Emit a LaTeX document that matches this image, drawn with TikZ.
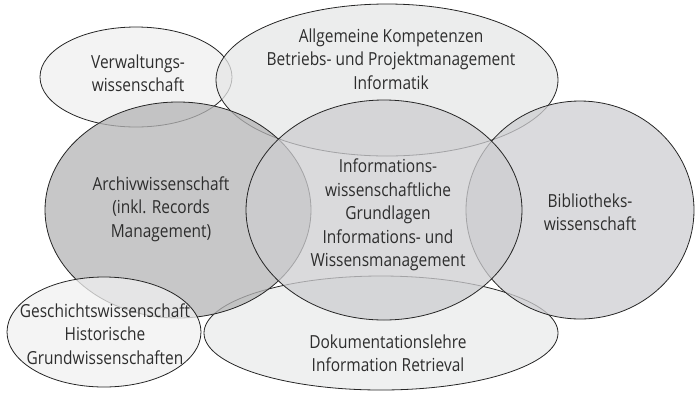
\documentclass[tikz,border=0pt]{standalone}
\usepackage{fontspec}
\setmainfont{Open Sans}[FakeStretch=0.86]
\definecolor{cArchiv}{RGB}{180,180,181}
\definecolor{cCenter}{RGB}{205,205,208}
\definecolor{cBiblio}{RGB}{206,206,209}
\definecolor{cAllg}{RGB}{230,231,231}
\definecolor{cVerw}{RGB}{239,239,239}
\definecolor{cGesch}{RGB}{240,240,240}
\definecolor{cDoku}{RGB}{234,235,235}
\definecolor{txt}{RGB}{45,45,45}
\tikzset{
  blob/.style={draw=black!85, line width=0.8pt, fill=#1, fill opacity=0.75},
  lbl/.style={align=center, text=txt, inner sep=0pt,
    font=\fontsize{18}{23.5}\selectfont}
}
\begin{document}
\begin{tikzpicture}[x=1pt,y=-1pt]
\useasboundingbox (0,0) rectangle (696,392);
% ellipses, bottom to top
\draw[blob=cVerw]   (136,77)  ellipse [x radius=96pt,  y radius=50pt];
\draw[blob=cAllg]   (387,80)  ellipse [x radius=171pt, y radius=76pt];
\draw[blob=cDoku]   (381,333) ellipse [x radius=177pt, y radius=57pt];
\draw[blob=cArchiv] (178,210) ellipse [x radius=133pt, y radius=108pt];
\draw[blob=cGesch]  (104,332) ellipse [x radius=97pt,  y radius=55pt];
\draw[blob=cBiblio] (580,210) ellipse [x radius=114pt, y radius=109pt];
\draw[blob=cCenter] (384,210) ellipse [x radius=138pt, y radius=110pt];
% labels
\node[lbl] (verw) at (138,73) {Verwaltungs-\\wissenschaft};
\node[lbl] (allg) at (391,59) {Allgemeine Kompetenzen\\Betriebs- und Projektmanagement\\Informatik};
\node[lbl] (archiv) at (161,209) {Archivwissenschaft\\(inkl. Records\\Management)};
\node[lbl] (center) at (388,215) {Informations-\\wissenschaftliche\\Grundlagen\\Informations- und\\Wissensmanagement};
\node[lbl] (biblio) at (590,212) {Bibliotheks-\\wissenschaft};
\node[lbl] (gesch) at (105,334) {Geschichtswissenschaft\\Historische\\Grundwissenschaften};
\node[lbl] (doku) at (388,353) {Dokumentationslehre\\Information Retrieval};
\end{tikzpicture}
\end{document}
